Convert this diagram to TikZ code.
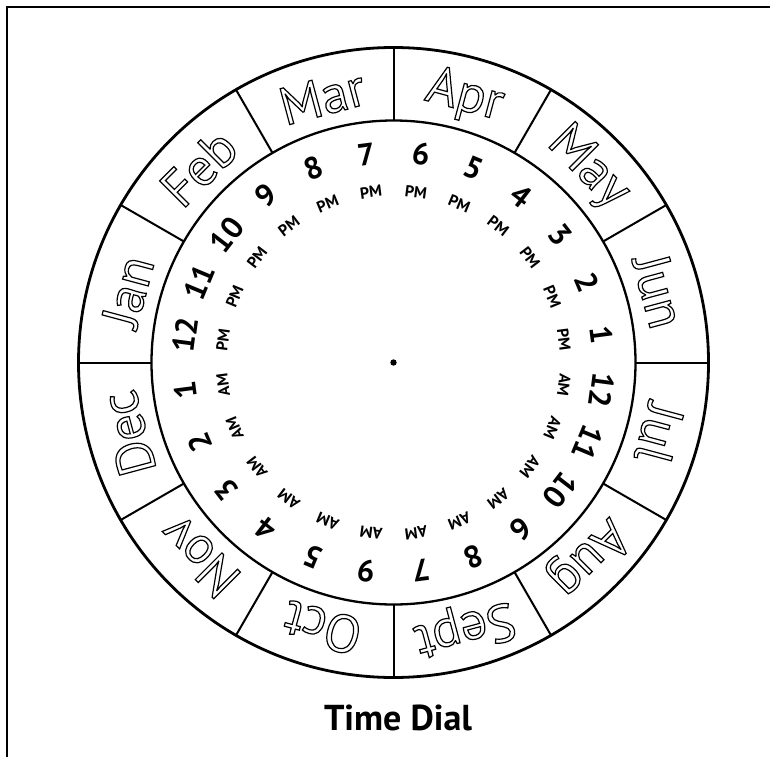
\documentclass[tikz,border=0pt]{standalone}
\usepackage{fontspec}
\setmainfont{PT Sans}
\usetikzlibrary{calc}
\newcommand\hollowtext[1]{\special{pdf:literal direct 1 Tr 1.2 w 0 G}#1\special{pdf:literal direct 0 Tr}}
\tikzset{
  frameline/.style={line width=2.4pt},
  outerring/.style={line width=2.8pt},
  innerring/.style={line width=2.3pt},
  divider/.style={line width=2pt},
  monthlabel/.style={inner sep=0pt, font=\fontsize{53}{53}\selectfont},
  hourlabel/.style={inner sep=0pt, font=\bfseries\fontsize{31}{31}\selectfont},
  ampmlabel/.style={inner sep=0pt, font=\bfseries\fontsize{16}{16}\selectfont},
  titlelabel/.style={inner sep=0pt, font=\bfseries\fontsize{36}{36}\selectfont}
}
\begin{document}
\begin{tikzpicture}[x=1pt,y=1pt]
\useasboundingbox (0,-757) rectangle (770,0);
\coordinate (fbl) at (7,-757);
\coordinate (ftl) at (7,-7);
\coordinate (ftr) at (770,-7);
\draw[frameline] (fbl) -- (ftl) -- (ftr);
\coordinate (c) at (393.5,-362.5);
\draw[outerring] (c) circle[radius=315];
\draw[innerring] (c) circle[radius=242];
\foreach \a in {0,30,...,330}{
  \coordinate (din\a) at ($(c)+(\a:242)$);
  \coordinate (dout\a) at ($(c)+(\a:315)$);
  \draw[divider] (din\a) -- (dout\a);
}
\foreach \a/\m in {105/Mar,75/Apr,45/May,15/Jun,-15/Jul,-45/Aug,-75/Sept,-105/Oct,-135/Nov,-165/Dec,165/Jan,135/Feb}{
  \pgfmathsetmacro{\mrot}{\a-90}
  \node[monthlabel, rotate=\mrot] (m\m) at ($(c)+(\a:275)$) {\hollowtext{\m}};
}
\foreach \k/\hh/\pp/\flipval in {0/7/PM/0,1/8/PM/0,2/9/PM/0,3/10/PM/0,4/11/PM/0,5/12/PM/0,6/1/AM/0,7/2/AM/0,8/3/AM/0,9/4/AM/0,10/5/AM/0,11/6/AM/180,12/7/AM/0,13/8/AM/0,14/9/AM/180,15/10/AM/0,16/11/AM/0,17/12/AM/0,18/1/PM/0,19/2/PM/0,20/3/PM/0,21/4/PM/0,22/5/PM/0,23/6/PM/0}{
  \pgfmathsetmacro{\ang}{97.5+15*\k}
  \pgfmathsetmacro{\prot}{\ang-90}
  \pgfmathsetmacro{\hrot}{\ang-90+\flipval}
  \node[hourlabel, rotate=\hrot] (h\k) at ($(c)+(\ang:210)$) {\hh};
  \node[ampmlabel, rotate=\prot] (p\k) at ($(c)+(\ang:172)$) {\pp};
}
\fill (c) circle[radius=3.2];
\node[titlelabel] (title) at (398,-718) {Time Dial};
\end{tikzpicture}
\end{document}
